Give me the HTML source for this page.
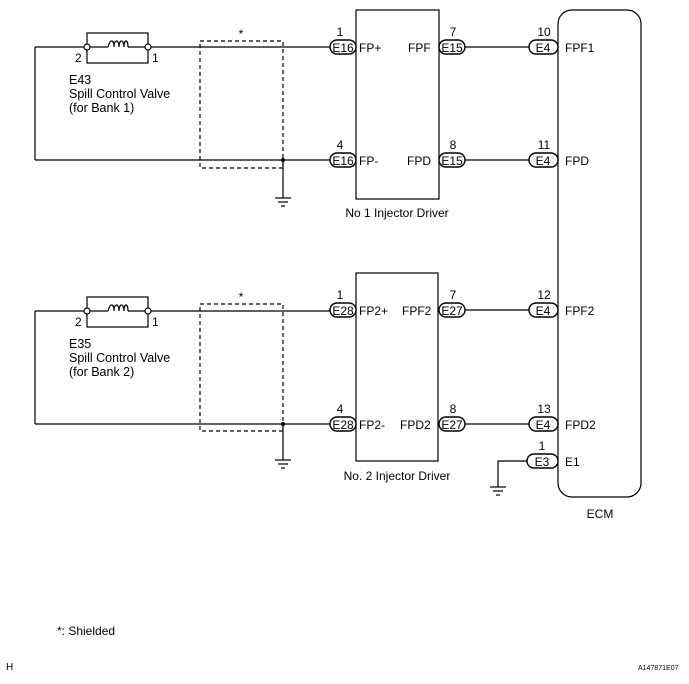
<!DOCTYPE html>
<html><head><meta charset="utf-8"><style>
html,body{margin:0;padding:0;background:#fff;}
svg{display:block;}
text{font-family:"Liberation Sans",Arial,sans-serif;font-size:12px;fill:#000;}
.lb{font-size:12.5px;}
</style></head><body>
<svg width="689" height="684" viewBox="0 0 689 684" xmlns="http://www.w3.org/2000/svg">
<defs>
<g id="valve" stroke="#000" fill="none" stroke-width="1.2">
  <rect x="87" y="-14" width="61" height="30" fill="none"/>
  <line x1="87" y1="0" x2="108" y2="0"/>
  <line x1="128" y1="0" x2="148" y2="0"/>
  <path d="M108,0 C110,-8 114,-8 114,0 C114,-8 119,-8 119,0 C119,-8 124,-8 124,0 C124,-8 128,-8 128,0"/>
  <circle cx="87" cy="0" r="3" fill="#fff"/>
  <circle cx="148" cy="0" r="3" fill="#fff"/>
</g>
<g id="gnd" stroke="#000" stroke-width="1.2">
  <line x1="-8" y1="0" x2="8" y2="0"/>
  <line x1="-5" y1="4" x2="5" y2="4"/>
  <line x1="-2" y1="8" x2="2" y2="8"/>
</g>
</defs>
<g stroke="#000" fill="none" stroke-width="1.2">
  <line x1="35" y1="47" x2="87" y2="47"/>
  <line x1="148" y1="47" x2="330" y2="47"/>
  <line x1="35" y1="47" x2="35" y2="160"/>
  <line x1="35" y1="160" x2="330" y2="160"/>
  <rect x="200" y="41" width="83" height="127" stroke-dasharray="4,3"/>
  <line x1="283" y1="160" x2="283" y2="198"/>
  <rect x="356" y="10" width="83" height="189"/>
  <line x1="465" y1="47" x2="531" y2="47"/>
  <line x1="465" y1="160" x2="531" y2="160"/>
  <line x1="35" y1="311" x2="87" y2="311"/>
  <line x1="148" y1="311" x2="330" y2="311"/>
  <line x1="35" y1="311" x2="35" y2="424"/>
  <line x1="35" y1="424" x2="330" y2="424"/>
  <rect x="200" y="304" width="83" height="127" stroke-dasharray="4,3"/>
  <line x1="283" y1="424" x2="283" y2="460"/>
  <rect x="356" y="273" width="82" height="188"/>
  <line x1="465" y1="310" x2="531" y2="310"/>
  <line x1="465" y1="424" x2="531" y2="424"/>
  <rect x="558" y="10" width="83" height="487" rx="14"/>
  <polyline points="527,461 498,461 498,487"/>
</g>
<circle cx="283" cy="160" r="2" fill="#000"/>
<circle cx="283" cy="424" r="2" fill="#000"/>
<use href="#valve" y="47"/>
<use href="#valve" y="311"/>
<use href="#gnd" x="283" y="198"/>
<use href="#gnd" x="283" y="460"/>
<use href="#gnd" x="498" y="487"/>
<g stroke="#000" fill="#fff" stroke-width="1.4">
  <rect x="330" y="40" width="26" height="14" rx="7"/>
  <rect x="330" y="153" width="26" height="14" rx="7"/>
  <rect x="439" y="40" width="26" height="14" rx="7"/>
  <rect x="439" y="153" width="26" height="14" rx="7"/>
  <rect x="529" y="40" width="29" height="14" rx="7"/>
  <rect x="529" y="153" width="29" height="14" rx="7"/>
  <rect x="330" y="303" width="26" height="14" rx="7"/>
  <rect x="330" y="417" width="26" height="14" rx="7"/>
  <rect x="439" y="303" width="26" height="14" rx="7"/>
  <rect x="439" y="417" width="26" height="14" rx="7"/>
  <rect x="529" y="303" width="29" height="14" rx="7"/>
  <rect x="529" y="417" width="29" height="14" rx="7"/>
  <rect x="527" y="454" width="31" height="14" rx="7"/>
</g>
<g text-anchor="middle">
  <text x="343" y="52">E16</text><text x="343" y="165">E16</text>
  <text x="452" y="52">E15</text><text x="452" y="165">E15</text>
  <text x="543" y="52">E4</text><text x="543" y="165">E4</text>
  <text x="343" y="315">E28</text><text x="343" y="429">E28</text>
  <text x="452" y="315">E27</text><text x="452" y="429">E27</text>
  <text x="543" y="315">E4</text><text x="543" y="429">E4</text>
  <text x="542" y="466">E3</text>
  <text x="340" y="36">1</text><text x="340" y="149">4</text>
  <text x="453" y="36">7</text><text x="453" y="149">8</text>
  <text x="544" y="36">10</text><text x="544" y="149">11</text>
  <text x="340" y="299">1</text><text x="340" y="413">4</text>
  <text x="453" y="299">7</text><text x="453" y="413">8</text>
  <text x="544" y="299">12</text><text x="544" y="413">13</text>
  <text x="542" y="450">1</text>
  <text x="241" y="38">*</text><text x="241" y="301">*</text>
  <text x="600" y="518">ECM</text>
  <text x="397" y="217">No  1 Injector Driver</text>
  <text x="397" y="480">No. 2 Injector Driver</text>
</g>
<text x="359" y="52">FP+</text><text x="408" y="52">FPF</text>
<text x="359" y="165">FP-</text><text x="407" y="165">FPD</text>
<text x="359" y="315">FP2+</text><text x="402" y="315">FPF2</text>
<text x="359" y="429">FP2-</text><text x="400" y="429">FPD2</text>
<text x="565" y="52">FPF1</text><text x="565" y="165">FPD</text>
<text x="565" y="315">FPF2</text><text x="565" y="429">FPD2</text>
<text x="565" y="466">E1</text>
<text x="75" y="62">2</text><text x="152" y="62">1</text>
<text x="75" y="326">2</text><text x="152" y="326">1</text>
<text class="lb" x="69" y="84">E43</text>
<text class="lb" x="69" y="98">Spill Control Valve</text>
<text class="lb" x="69" y="112">(for Bank 1)</text>
<text class="lb" x="69" y="348">E35</text>
<text class="lb" x="69" y="362">Spill Control Valve</text>
<text class="lb" x="69" y="376">(for Bank 2)</text>
<text x="57" y="635">*: Shielded</text>
<text x="6" y="670" style="font-size:10px">H</text>
<text x="638" y="670" style="font-size:7px">A147871E07</text>
</svg>
</body></html>
